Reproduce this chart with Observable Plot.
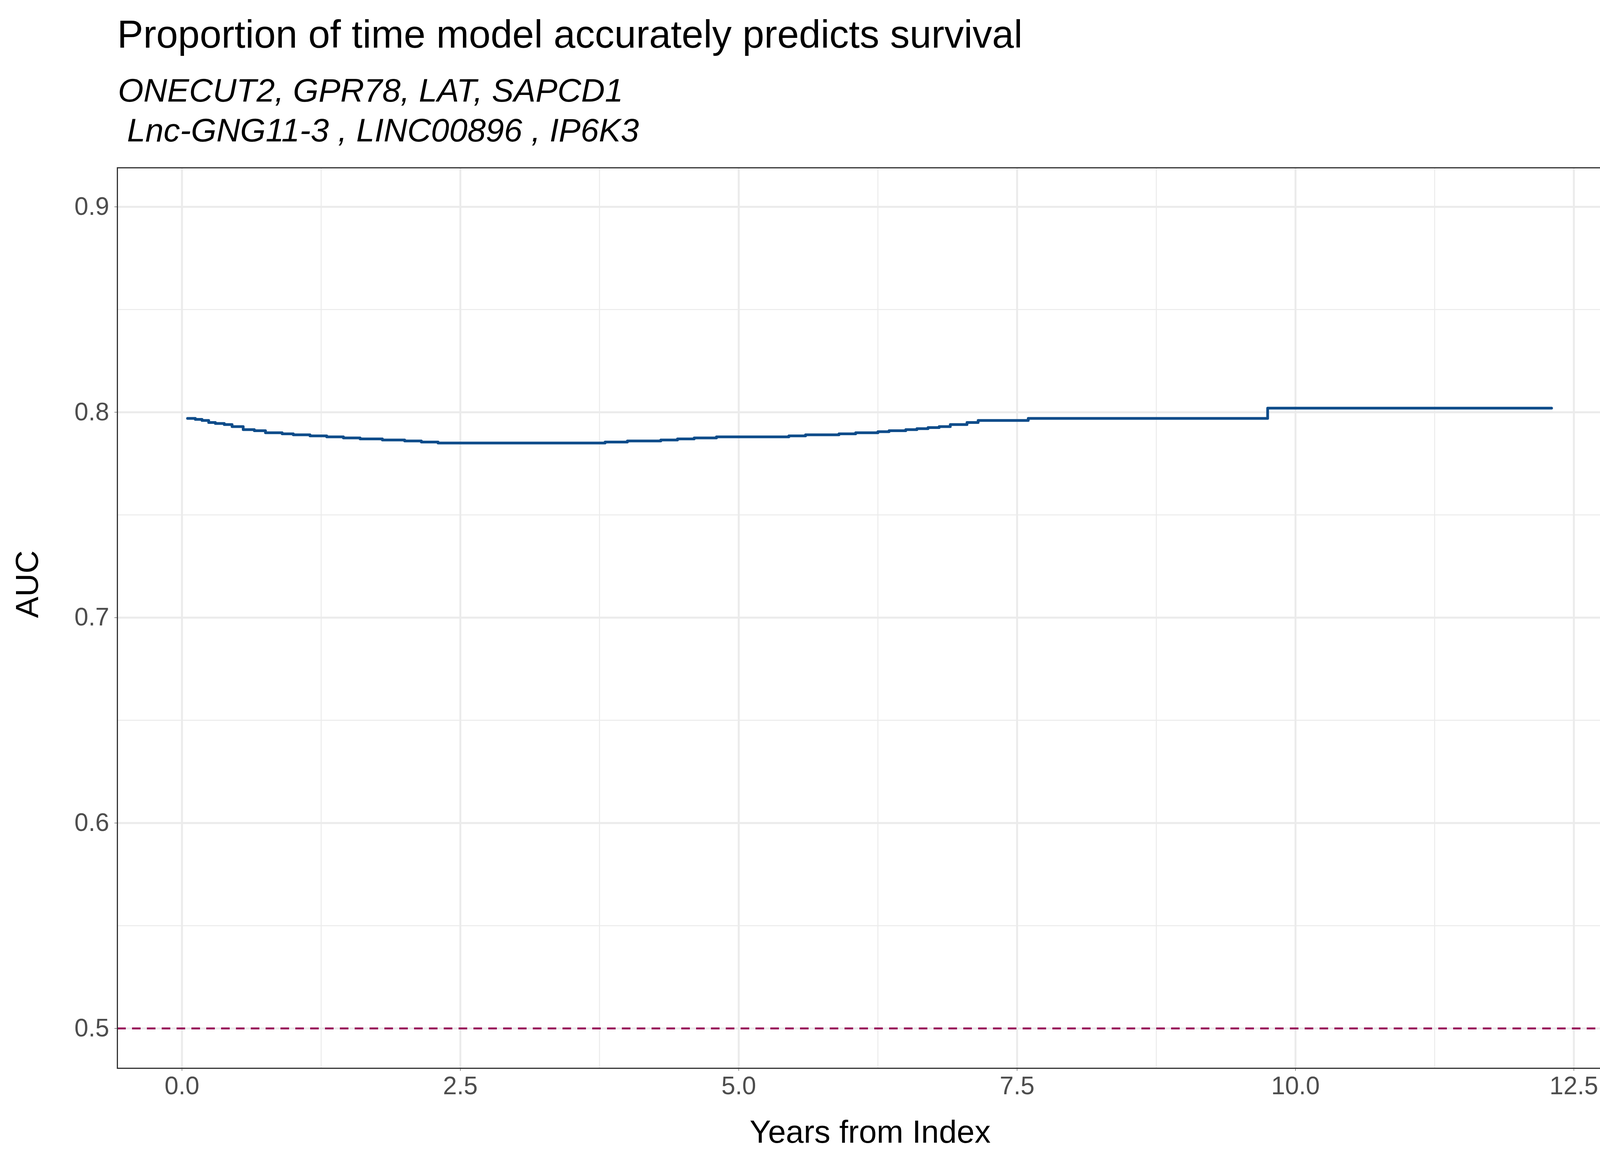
<!DOCTYPE html>
<html>
<head>
<meta charset="utf-8">
<script src="https://cdn.jsdelivr.net/npm/d3@7"></script>
<script src="https://cdn.jsdelivr.net/npm/@observablehq/plot@0.6"></script>
<style>
  html, body { margin: 0; padding: 0; overflow: hidden; background: #fff; font-family: Arial, "Liberation Sans", sans-serif; }
  #wrap { position: relative; width: 4200px; height: 3000px; overflow: hidden; }
  #chart { position: absolute; left: 0; top: 0; }
  #chart svg { display: block; }
  #title { position: absolute; left: 300px; top: 30px; font-size: 100px; color: #000; white-space: nowrap; z-index: 2; }
  #sub { position: absolute; left: 302px; top: 180px; font-size: 84px; font-style: italic; line-height: 102px; color: #000; white-space: pre; z-index: 2; }
</style>
</head>
<body>
<div id="wrap">
  <div id="chart"></div>
  <div id="title">Proportion of time model accurately predicts survival</div>
  <div id="sub">ONECUT2, GPR78, LAT, SAPCD1
 Lnc-GNG11-3 , LINC00896 , IP6K3</div>
</div>
<script>
const years = [0.05, 0.12, 0.18, 0.24, 0.3, 0.38, 0.45, 0.55, 0.65, 0.75, 0.9, 1.0, 1.15, 1.3, 1.45, 1.6, 1.8, 2.0, 2.15, 2.3, 2.6, 3.0, 3.4, 3.8, 4.0, 4.3, 4.45, 4.6, 4.8, 5.0, 5.3, 5.45, 5.6, 5.9, 6.05, 6.25, 6.35, 6.5, 6.6, 6.7, 6.8, 6.9, 7.05, 7.15, 7.6, 9.75, 12.3]
const auc   = [0.797, 0.7965, 0.796, 0.795, 0.7945, 0.794, 0.793, 0.7915, 0.791, 0.790, 0.7895, 0.789, 0.7885, 0.788, 0.7875, 0.787, 0.7865, 0.786, 0.7855, 0.785, 0.785, 0.785, 0.785, 0.7855, 0.786, 0.7865, 0.787, 0.7875, 0.788, 0.788, 0.788, 0.7885, 0.789, 0.7895, 0.790, 0.7905, 0.791, 0.7915, 0.792, 0.7925, 0.793, 0.794, 0.795, 0.796, 0.797, 0.802, 0.802]
const xTicks = [0, 2.5, 5, 7.5, 10, 12.5]
const xMinor = [1.25, 3.75, 6.25, 8.75, 11.25]
const yTicks = [0.5, 0.6, 0.7, 0.8, 0.9]
const yMinor = [0.55, 0.65, 0.75, 0.85]
const refLine = [0.5]

const data = years.map((d, i) => ({year: d, auc: auc[i]}))

const chart = Plot.plot({
  width: 4200,
  height: 3000,
  marginLeft: 300,
  marginRight: 46,
  marginTop: 429,
  marginBottom: 266,
  style: {fontFamily: 'Arial, "Liberation Sans", sans-serif', fontSize: '64px', color: '#4d4d4d', background: '#fff'},
  x: {domain: [-0.58, 12.94], label: null},
  y: {domain: [0.4806, 0.919], label: null},
  marks: [
    Plot.ruleX(xMinor, {stroke: '#ebebeb', strokeWidth: 2.5}),
    Plot.ruleY(yMinor, {stroke: '#ebebeb', strokeWidth: 2.5}),
    Plot.ruleX(xTicks, {stroke: '#ebebeb', strokeWidth: 5}),
    Plot.ruleY(yTicks, {stroke: '#ebebeb', strokeWidth: 5}),
    Plot.ruleY(refLine, {stroke: '#990a5a', strokeWidth: 5, strokeDasharray: '22,16'}),
    Plot.line(data, {x: 'year', y: 'auc', curve: 'step-after', stroke: '#0e4c8a', strokeWidth: 7}),
    Plot.frame({stroke: '#333', strokeWidth: 3}),
    Plot.axisX({ticks: xTicks, tickFormat: d3.format('.1f'), tickSize: 7, tickPadding: 14, stroke: '#333', fill: '#4d4d4d', label: null}),
    Plot.axisY({ticks: yTicks, tickFormat: d3.format('.1f'), tickSize: 7, tickPadding: 14, stroke: '#333', fill: '#4d4d4d', label: null}),
    Plot.text(['Years from Index'], {frameAnchor: 'bottom', dy: 190, fontSize: 82, fill: '#000'}),
    Plot.text(['AUC'], {frameAnchor: 'left', dx: -230, rotate: -90, fontSize: 82, fill: '#000'})
  ]
})
document.querySelector('#chart').append(chart)
</script>
</body>
</html>
